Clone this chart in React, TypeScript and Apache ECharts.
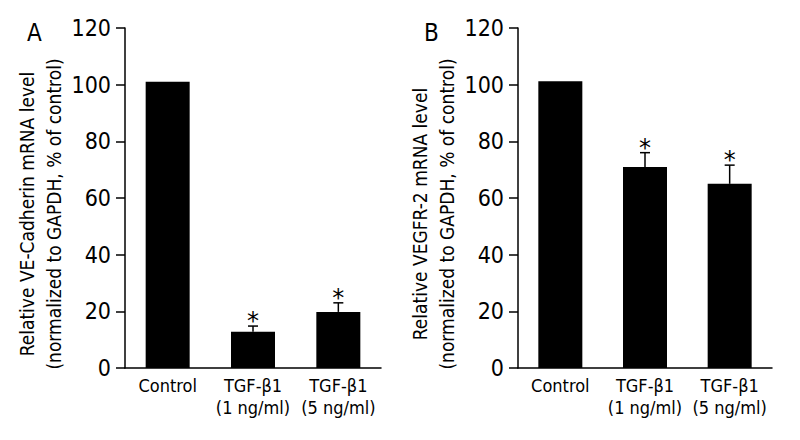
import React, { useEffect, useRef } from "react";
import * as echarts from "echarts";

const categories = ["Control", "TGF-β1\n(1 ng/ml)", "TGF-β1\n(5 ng/ml)"];
const veCadherin = [101, 12.8, 19.8];
const veCadherinErrTop = [null, 14.8, 23];
const vegfr2 = [101.2, 70.9, 65];
const vegfr2ErrTop = [null, 76, 71.6];
const significant = [false, true, true];
const yMin = 0;
const yMax = 120;
const yInterval = 20;
const panelLabels = ["A", "B"];
const yTitles = [
  "Relative VE-Cadherin mRNA level\n(normalized to GAPDH, % of control)",
  "Relative VEGFR-2 mRNA level\n(normalized to GAPDH, % of control)",
];

const FONT = '"Liberation Sans Narrow", "DejaVu Sans Condensed", "Liberation Sans", sans-serif';

function errData(values: number[], tops: (number | null)[]) {
  const out: any[] = [];
  values.forEach((v, i) => {
    const t = tops[i];
    if (t !== null) out.push([i, v, t, significant[i] ? 1 : 0]);
  });
  return out;
}

const renderErr = (params: any, api: any) => {
  const x = api.value(0);
  const v = api.value(1);
  const t = api.value(2);
  const sig = api.value(3);
  const p0 = api.coord([x, v]);
  const p1 = api.coord([x, t]);
  const style = { stroke: "#000", lineWidth: 1.5 };
  const children: any[] = [
    { type: "line", shape: { x1: p0[0], y1: p0[1], x2: p1[0], y2: p1[1] }, style },
    { type: "line", shape: { x1: p1[0] - 5, y1: p1[1], x2: p1[0] + 5, y2: p1[1] }, style },
  ];
  if (sig) {
    children.push({
      type: "text",
      x: p1[0],
      y: p1[1] - 5,
      style: {
        text: "*",
        fill: "#000",
        font: '24px "DejaVu Sans", sans-serif',
        align: "center",
        verticalAlign: "middle",
      },
    });
  }
  return { type: "group", children };
};

export default function App() {
  const ref = useRef<HTMLDivElement>(null);
  useEffect(() => {
    if (!ref.current) return;
    const chart = echarts.init(ref.current, null, { renderer: "svg" });
    const grids = [
      { left: 125, top: 28, width: 256, height: 340 },
      { left: 518, top: 28, width: 254, height: 340 },
    ];
    const mkX = (gi: number) => ({
      type: "category",
      gridIndex: gi,
      data: categories,
      axisLine: { lineStyle: { color: "#000", width: 1.5 } },
      axisTick: { show: false },
      axisLabel: {
        color: "#000",
        fontFamily: FONT,
        fontSize: 18,
        lineHeight: 22,
        margin: 6,
        interval: 0,
      },
    });
    const mkY = (gi: number) => ({
      type: "value",
      gridIndex: gi,
      min: yMin,
      max: yMax,
      interval: yInterval,
      splitLine: { show: false },
      axisLine: { show: true, lineStyle: { color: "#000", width: 1.5 } },
      axisTick: { show: true, length: 9, lineStyle: { color: "#000", width: 1.5 } },
      axisLabel: { color: "#000", fontFamily: FONT, fontSize: 23, margin: 14 },
      name: yTitles[gi],
      nameLocation: "middle",
      nameRotate: 90,
      nameGap: 50,
      nameTextStyle: {
        color: "#000",
        fontFamily: FONT,
        fontSize: 19,
        lineHeight: 27,
        padding: [0, 32, 0, 0],
      },
    });
    chart.setOption({
      animation: false,
      backgroundColor: "#fff",
      grid: grids,
      xAxis: [mkX(0), mkX(1)],
      yAxis: [mkY(0), mkY(1)],
      graphic: [
        {
          type: "text",
          left: 27,
          top: 21,
          style: { text: panelLabels[0], fill: "#000", font: `24px ${FONT}` },
        },
        {
          type: "text",
          left: 424,
          top: 21,
          style: { text: panelLabels[1], fill: "#000", font: `24px ${FONT}` },
        },
      ],
      series: [
        {
          type: "bar",
          xAxisIndex: 0,
          yAxisIndex: 0,
          data: veCadherin,
          barWidth: 44,
          itemStyle: { color: "#000" },
        },
        {
          type: "custom",
          xAxisIndex: 0,
          yAxisIndex: 0,
          data: errData(veCadherin, veCadherinErrTop),
          encode: { x: 0, y: [1, 2] },
          renderItem: renderErr,
          z: 5,
        },
        {
          type: "bar",
          xAxisIndex: 1,
          yAxisIndex: 1,
          data: vegfr2,
          barWidth: 44,
          itemStyle: { color: "#000" },
        },
        {
          type: "custom",
          xAxisIndex: 1,
          yAxisIndex: 1,
          data: errData(vegfr2, vegfr2ErrTop),
          encode: { x: 0, y: [1, 2] },
          renderItem: renderErr,
          z: 5,
        },
      ],
    });
    return () => chart.dispose();
  }, []);
  return (
    <div
      ref={ref}
      style={{ position: "fixed", left: 0, top: 0, width: 800, height: 440 }}
    />
  );
}
